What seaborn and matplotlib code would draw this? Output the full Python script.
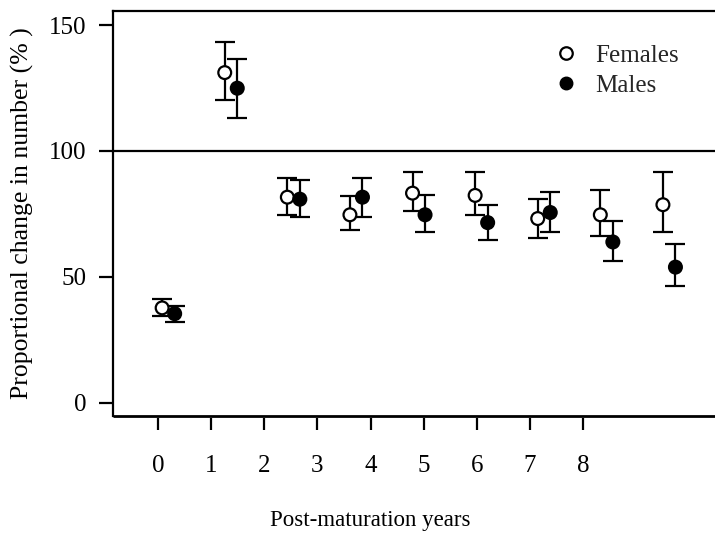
import matplotlib
matplotlib.use("Agg")
import matplotlib.pyplot as plt
import seaborn as sns
import pandas as pd
import numpy as np
from matplotlib.lines import Line2D

years = [0, 1, 2, 3, 4, 5, 6, 7, 8]
female_mean = [37.6, 131.1, 81.6, 74.6, 83.2, 82.3, 73.1, 74.6, 78.6]
female_upper = [41.3, 143.3, 89.2, 82.1, 91.5, 91.5, 80.8, 84.5, 91.5]
female_lower = [34.5, 120.2, 74.5, 68.4, 76.1, 74.6, 65.3, 66.0, 67.6]
male_mean = [35.3, 124.9, 80.8, 81.6, 74.6, 71.5, 75.5, 63.8, 53.8]
male_upper = [38.2, 136.4, 88.4, 89.2, 82.3, 78.3, 83.6, 72.2, 63.0]
male_lower = [32.0, 113.2, 73.8, 73.8, 67.6, 64.7, 67.6, 56.1, 46.2]
tick_labels = ["0", "1", "2", "3", "4", "5", "6", "7", "8"]
y_ticks = [0, 50, 100, 150]

sns.set_theme(style="ticks")
plt.rcParams['font.family'] = ['Liberation Serif', 'DejaVu Serif']
FS_TICK = 18
FS_YLAB = 18.5
FS_XLAB = 16.5
FS_LEG = 18
LW = 1.6

fig = plt.figure(figsize=(7.15, 5.35), dpi=100)
ax = fig.add_axes([113/715, (535-416)/535, (715-113)/715, (416-10.7)/535])

dodge = 0.1
df = pd.DataFrame({
    "x": [y - dodge for y in years] + [y + dodge for y in years],
    "value": female_mean + male_mean,
    "lo": female_lower + male_lower,
    "hi": female_upper + male_upper,
    "sex": ["Females"] * len(years) + ["Males"] * len(years),
})

for sex in ["Females", "Males"]:
    d = df[df.sex == sex]
    ax.errorbar(d.x, d.value, yerr=[d.value - d.lo, d.hi - d.value], fmt='none',
                ecolor='black', elinewidth=LW, capsize=7, capthick=LW, zorder=2)

sns.scatterplot(data=df, x="x", y="value", hue="sex",
                palette={"Females": "white", "Males": "black"},
                edgecolor="black", linewidth=1.6, s=85, ax=ax, zorder=3, legend=False)

ax.axhline(100, color='black', lw=LW, zorder=1)

ax.set_xlim(-0.885, 8.732)
ax.set_ylim(-5.36, 155.7)

for s in ["top", "left"]:
    ax.spines[s].set_linewidth(LW)
    ax.spines[s].set_color('black')
ax.spines["right"].set_visible(False)
ax.spines["bottom"].set_visible(False)
ax.plot([0, 1], [0, 0], transform=ax.transAxes, color='black', lw=2, clip_on=False,
        solid_capstyle='butt')

ax.set_yticks(y_ticks)
ax.set_yticklabels([str(v) for v in y_ticks], fontsize=FS_TICK)
ax.tick_params(axis='y', direction='out', length=10, width=LW, pad=9, color='black',
               labelcolor='black')
ax.set_xticks([])
ax.set_xlabel("")
ax.set_ylabel("Proportional change in number (% )", fontsize=FS_YLAB, labelpad=11, color='black')

# separate tick axis
ax2 = ax.twiny()
ax2.xaxis.set_ticks_position('bottom')
ax2.xaxis.set_label_position('bottom')
ax2.spines['bottom'].set_position(('outward', 1.5))
for s in ax2.spines.values():
    s.set_visible(False)
ax2.set_xlim(-0.8465, 10.478)
ax2.set_xticks(years)
ax2.set_xticklabels(tick_labels, fontsize=FS_TICK)
ax2.tick_params(axis='x', direction='out', length=8.6, width=LW, pad=18, color='black',
                labelcolor='black')
ax2.set_xlabel("Post-maturation years", fontsize=FS_XLAB, labelpad=24, color='black')
ax2.xaxis.label.set_x((370 - 113) / (715 - 113))

handles = [
    Line2D([], [], marker='o', linestyle='none', markerfacecolor='white',
           markeredgecolor='black', markeredgewidth=1.6, markersize=9),
    Line2D([], [], marker='o', linestyle='none', markerfacecolor='black',
           markeredgecolor='black', markersize=9),
]
ax.legend(handles, ["Females", "Males"], loc='upper left',
          bbox_to_anchor=((553 - 113) / 602, (416 - 44) / 405.3),
          frameon=False, fontsize=FS_LEG, handlelength=1.0, handletextpad=0.7,
          labelspacing=0.3, borderpad=0, borderaxespad=0)

fig.savefig("out.png", dpi=100)
